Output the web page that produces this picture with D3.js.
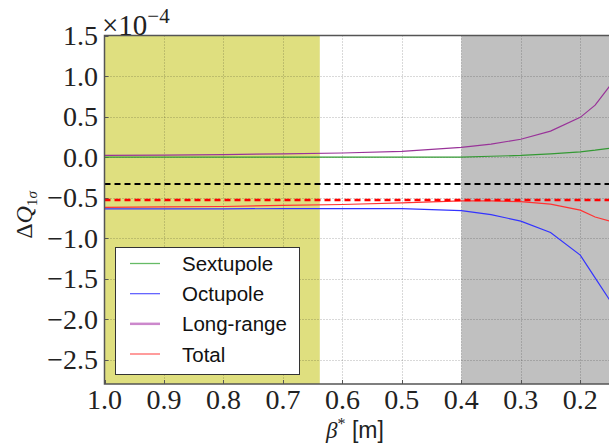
<!DOCTYPE html>
<html>
<head>
<meta charset="utf-8">
<script src="https://cdn.jsdelivr.net/npm/d3@7"></script>
<style>
  html, body { margin: 0; padding: 0; background: #fff; }
  svg { display: block; }
</style>
</head>
<body>
<svg id="chart" width="609" height="443"></svg>
<script>
// beta* values (m) and tune shift contributions (x 1e-4)
const betaStar = [1.0, 0.9, 0.8, 0.7, 0.6, 0.5, 0.4, 0.35, 0.3, 0.25, 0.2, 0.175, 0.15];
const sextupole = [0.0, 0.0, 0.0, 0.0, 0.0, 0.0, 0.0, 0.01, 0.02, 0.04, 0.065, 0.085, 0.11];
const octupole = [-0.64, -0.64, -0.64, -0.635, -0.635, -0.635, -0.66, -0.71, -0.79, -0.93, -1.21, -1.49, -1.77];
const longRange = [0.02, 0.025, 0.03, 0.04, 0.05, 0.07, 0.12, 0.16, 0.22, 0.32, 0.49, 0.64, 0.88];
const total = [-0.62, -0.615, -0.61, -0.595, -0.585, -0.565, -0.54, -0.54, -0.55, -0.58, -0.655, -0.74, -0.79];

const seriesNames = ['Sextupole', 'Octupole', 'Long-range', 'Total'];
const seriesColors = ['#339933', '#3333ff', '#993399', '#ff3333'];
const legendColors = ['#66bb66', '#6666ff', '#cc88cc', '#ff6666'];

const refLevels = [-0.333, -0.53];
const refColors = ['#000000', '#ff0000'];

const spans = [[1.0, 0.638], [0.4, 0.15]];
const spanColors = ['#dfdf7f', '#c0c0c0'];

const xTicks = [1.0, 0.9, 0.8, 0.7, 0.6, 0.5, 0.4, 0.3, 0.2];
const yTicks = [1.5, 1.0, 0.5, 0.0, -0.5, -1.0, -1.5, -2.0, -2.5];

const svg = d3.select('#chart');
const plot = { left: 104.5, right: 610, top: 35.5, bottom: 384 };

const x = d3.scaleLinear().domain([1.0, 0.15]).range([plot.left, plot.right]);
const y = d3.scaleLinear().domain([-2.8, 1.5]).range([plot.bottom, plot.top]);

svg.append('clipPath').attr('id', 'clip')
  .append('rect')
  .attr('x', plot.left).attr('y', plot.top)
  .attr('width', plot.right - plot.left).attr('height', plot.bottom - plot.top);

const g = svg.append('g').attr('clip-path', 'url(#clip)');

// shaded regions
g.selectAll('rect.span')
  .data(spans)
  .enter().append('rect')
  .attr('class', 'span')
  .attr('x', d => x(d[0]))
  .attr('width', d => x(d[1]) - x(d[0]))
  .attr('y', plot.top)
  .attr('height', plot.bottom - plot.top)
  .attr('fill', (d, i) => spanColors[i]);

// grid
g.selectAll('line.vgrid')
  .data(xTicks.slice(1))
  .enter().append('line')
  .attr('x1', d => Math.round(x(d)) + 0.5).attr('x2', d => Math.round(x(d)) + 0.5)
  .attr('y1', plot.top).attr('y2', plot.bottom)
  .attr('stroke', '#000').attr('stroke-opacity', 0.3)
  .attr('stroke-dasharray', '1,2');

g.selectAll('line.hgrid')
  .data(yTicks.slice(1))
  .enter().append('line')
  .attr('y1', d => Math.round(y(d)) + 0.5).attr('y2', d => Math.round(y(d)) + 0.5)
  .attr('x1', plot.left).attr('x2', plot.right)
  .attr('stroke', '#000').attr('stroke-opacity', 0.3)
  .attr('stroke-dasharray', '1,2');

// inner ticks
g.selectAll('line.xtick')
  .data(xTicks)
  .enter().append('line')
  .attr('x1', d => Math.round(x(d)) + 0.5).attr('x2', d => Math.round(x(d)) + 0.5)
  .attr('y1', plot.bottom).attr('y2', plot.bottom - 4)
  .attr('stroke', '#555');
g.selectAll('line.ytick')
  .data(yTicks)
  .enter().append('line')
  .attr('y1', d => Math.round(y(d)) + 0.5).attr('y2', d => Math.round(y(d)) + 0.5)
  .attr('x1', plot.left).attr('x2', plot.left + 4)
  .attr('stroke', '#555');

// series
const line = d3.line()
  .x(d => x(d[0]))
  .y(d => y(d[1]));

[sextupole, octupole, longRange, total].forEach((vals, i) => {
  g.append('path')
    .datum(betaStar.map((b, j) => [b, vals[j]]))
    .attr('fill', 'none')
    .attr('stroke', seriesColors[i])
    .attr('stroke-width', 1.2)
    .attr('d', line);
});

// reference levels
refLevels.forEach((v, i) => {
  g.append('line')
    .attr('x1', plot.left).attr('x2', plot.right)
    .attr('y1', y(v)).attr('y2', y(v))
    .attr('stroke', refColors[i])
    .attr('stroke-width', i === 0 ? 2 : 2.5)
    .attr('stroke-dasharray', '6,4');
});

// frame
svg.append('path')
  .attr('d', `M${plot.right},${plot.top}H${plot.left}V${plot.bottom}H${plot.right}`)
  .attr('fill', 'none')
  .attr('stroke', '#555')
  .attr('stroke-width', 1.5);

// tick labels
const serif = '"Liberation Serif", "DejaVu Serif", serif';
svg.selectAll('text.xlab')
  .data(xTicks)
  .enter().append('text')
  .attr('x', d => x(d))
  .attr('y', 409)
  .attr('text-anchor', 'middle')
  .attr('font-family', serif)
  .attr('font-size', 28)
  .attr('fill', '#222')
  .text(d => d.toFixed(1));

svg.selectAll('text.ylab')
  .data(yTicks)
  .enter().append('text')
  .attr('x', 98)
  .attr('y', d => y(d) + 9.5)
  .attr('text-anchor', 'end')
  .attr('font-family', serif)
  .attr('font-size', 28)
  .attr('fill', '#222')
  .text(d => (d < 0 ? '\u2212' : '') + Math.abs(d).toFixed(1));

// offset text
const off = svg.append('text')
  .attr('x', 102).attr('y', 35)
  .attr('font-family', serif)
  .attr('font-size', 29)
  .attr('fill', '#222');
off.append('tspan').text('\u00d710');
off.append('tspan').attr('font-size', 21).attr('dy', -12).text('\u22124');

// axis titles
const xt = svg.append('text')
  .attr('x', 355).attr('y', 438)
  .attr('text-anchor', 'middle')
  .attr('font-size', 23)
  .attr('fill', '#222');
xt.append('tspan').attr('font-family', serif).attr('font-style', 'italic').text('\u03b2');
xt.append('tspan').attr('font-family', serif).attr('font-size', 16).attr('dy', -9).text('*');
xt.append('tspan').attr('font-family', '"Liberation Sans", Arial, sans-serif').attr('dy', 9).text(' [m]');

const yt = svg.append('text')
  .attr('transform', 'translate(32,215) rotate(-90)')
  .attr('text-anchor', 'middle')
  .attr('font-family', serif)
  .attr('font-size', 24)
  .attr('fill', '#222');
yt.append('tspan').text('\u0394');
yt.append('tspan').attr('font-style', 'italic').text('Q');
yt.append('tspan').attr('font-size', 15).attr('dy', 5).text('1');
yt.append('tspan').attr('font-size', 15).attr('font-style', 'italic').text('\u03c3');

// legend
const legend = svg.append('g');
legend.append('rect')
  .attr('x', 115.5).attr('y', 247.5)
  .attr('width', 184).attr('height', 127)
  .attr('fill', '#fff')
  .attr('stroke', '#333')
  .attr('stroke-width', 1);

const rowY = d3.scalePoint().domain(seriesNames).range([263.5, 354]);
seriesNames.forEach((name, i) => {
  legend.append('line')
    .attr('x1', 130).attr('x2', 160)
    .attr('y1', rowY(name)).attr('y2', rowY(name))
    .attr('stroke', legendColors[i])
    .attr('stroke-width', name === 'Long-range' ? 2.5 : 1.3);
  legend.append('text')
    .attr('x', 182).attr('y', rowY(name) + 7.5)
    .attr('font-family', '"Liberation Sans", Arial, sans-serif')
    .attr('font-size', 20.5)
    .attr('fill', '#111')
    .text(name);
});
</script>
</body>
</html>
